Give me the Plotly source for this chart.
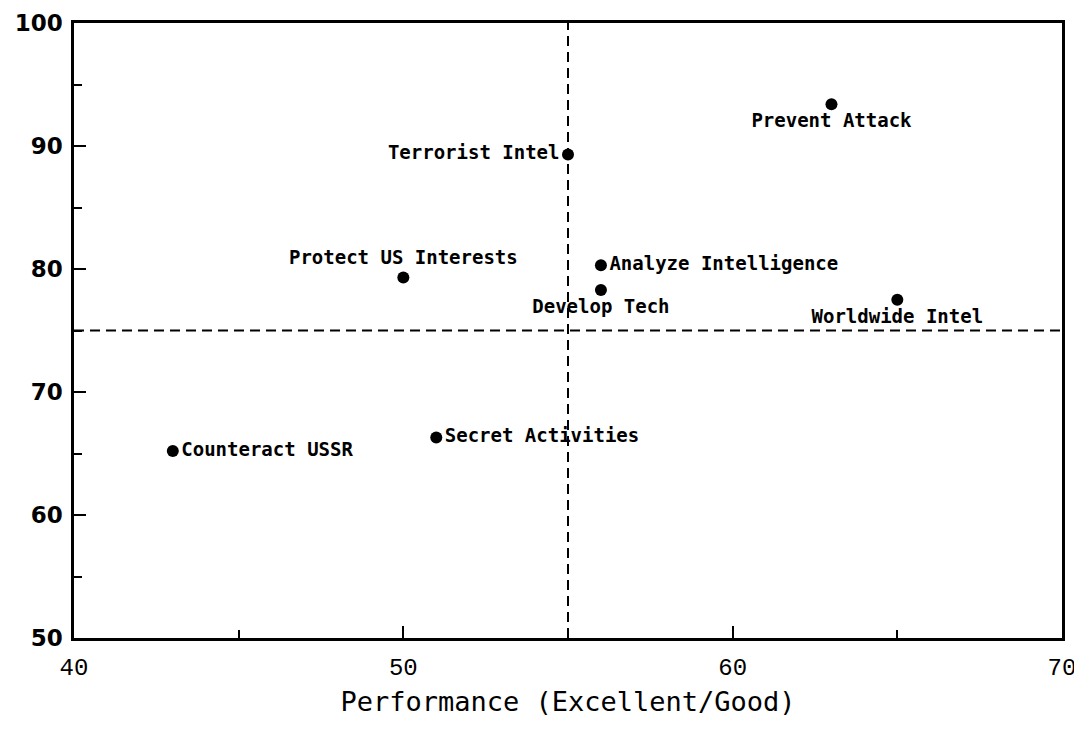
import plotly.graph_objects as go

# Data
labels = ["Prevent Attack", "Terrorist Intel", "Protect US Interests",
          "Analyze Intelligence", "Develop Tech", "Worldwide Intel",
          "Secret Activities", "Counteract USSR"]
performance = [63.0, 55.0, 50.0, 56.0, 56.0, 65.0, 51.0, 43.0]
importance = [93.4, 89.3, 79.3, 80.3, 78.3, 77.5, 66.3, 65.2]
label_pos = ["bottom center", "middle left", "top center", "middle right",
             "bottom center", "bottom center", "middle right", "middle right"]

x_cut = 55
y_cut = 75

mono = "DejaVu Sans Mono"

fig = go.Figure()
fig.add_trace(go.Scatter(
    x=performance, y=importance, mode="markers+text",
    text=labels, textposition=label_pos,
    marker=dict(color="black", size=12),
    textfont=dict(family=mono, size=19, color="black", weight="bold"),
    cliponaxis=False, showlegend=False))

# quadrant dividers
fig.add_vline(x=x_cut, line=dict(color="black", width=2, dash="10px,6px"))
fig.add_hline(y=y_cut, line=dict(color="black", width=2, dash="10px,6px"))

fig.update_layout(
    width=1082, height=730,
    margin=dict(l=66, r=28, t=15, b=100),
    plot_bgcolor="white", paper_bgcolor="white",
    font=dict(family=mono, color="black"),
)
fig.update_xaxes(
    range=[40, 70], dtick=10, showgrid=False, zeroline=False,
    showline=True, linecolor="black", linewidth=2.5, mirror=True,
    ticks="inside", ticklen=12, tickwidth=2, tickcolor="black",
    minor=dict(dtick=5, ticks="inside", ticklen=8, tickwidth=2, tickcolor="black"),
    tickfont=dict(family="Liberation Mono", size=24),
    ticklabelstandoff=5, automargin=False, ticklabeloverflow="allow",
    title=dict(text="Performance (Excellent/Good)",
               font=dict(family=mono, size=27), standoff=12),
)
fig.update_yaxes(
    range=[50, 100], dtick=10, showgrid=False, zeroline=False,
    showline=True, linecolor="black", linewidth=2.5, mirror=True,
    ticks="inside", ticklen=12, tickwidth=2, tickcolor="black",
    minor=dict(dtick=5, ticks="inside", ticklen=8, tickwidth=2, tickcolor="black"),
    tickfont=dict(family="DejaVu Sans", size=23, weight="bold"),
    ticklabelstandoff=4, automargin=False, ticklabeloverflow="allow",
)

fig.write_html("out.html")
